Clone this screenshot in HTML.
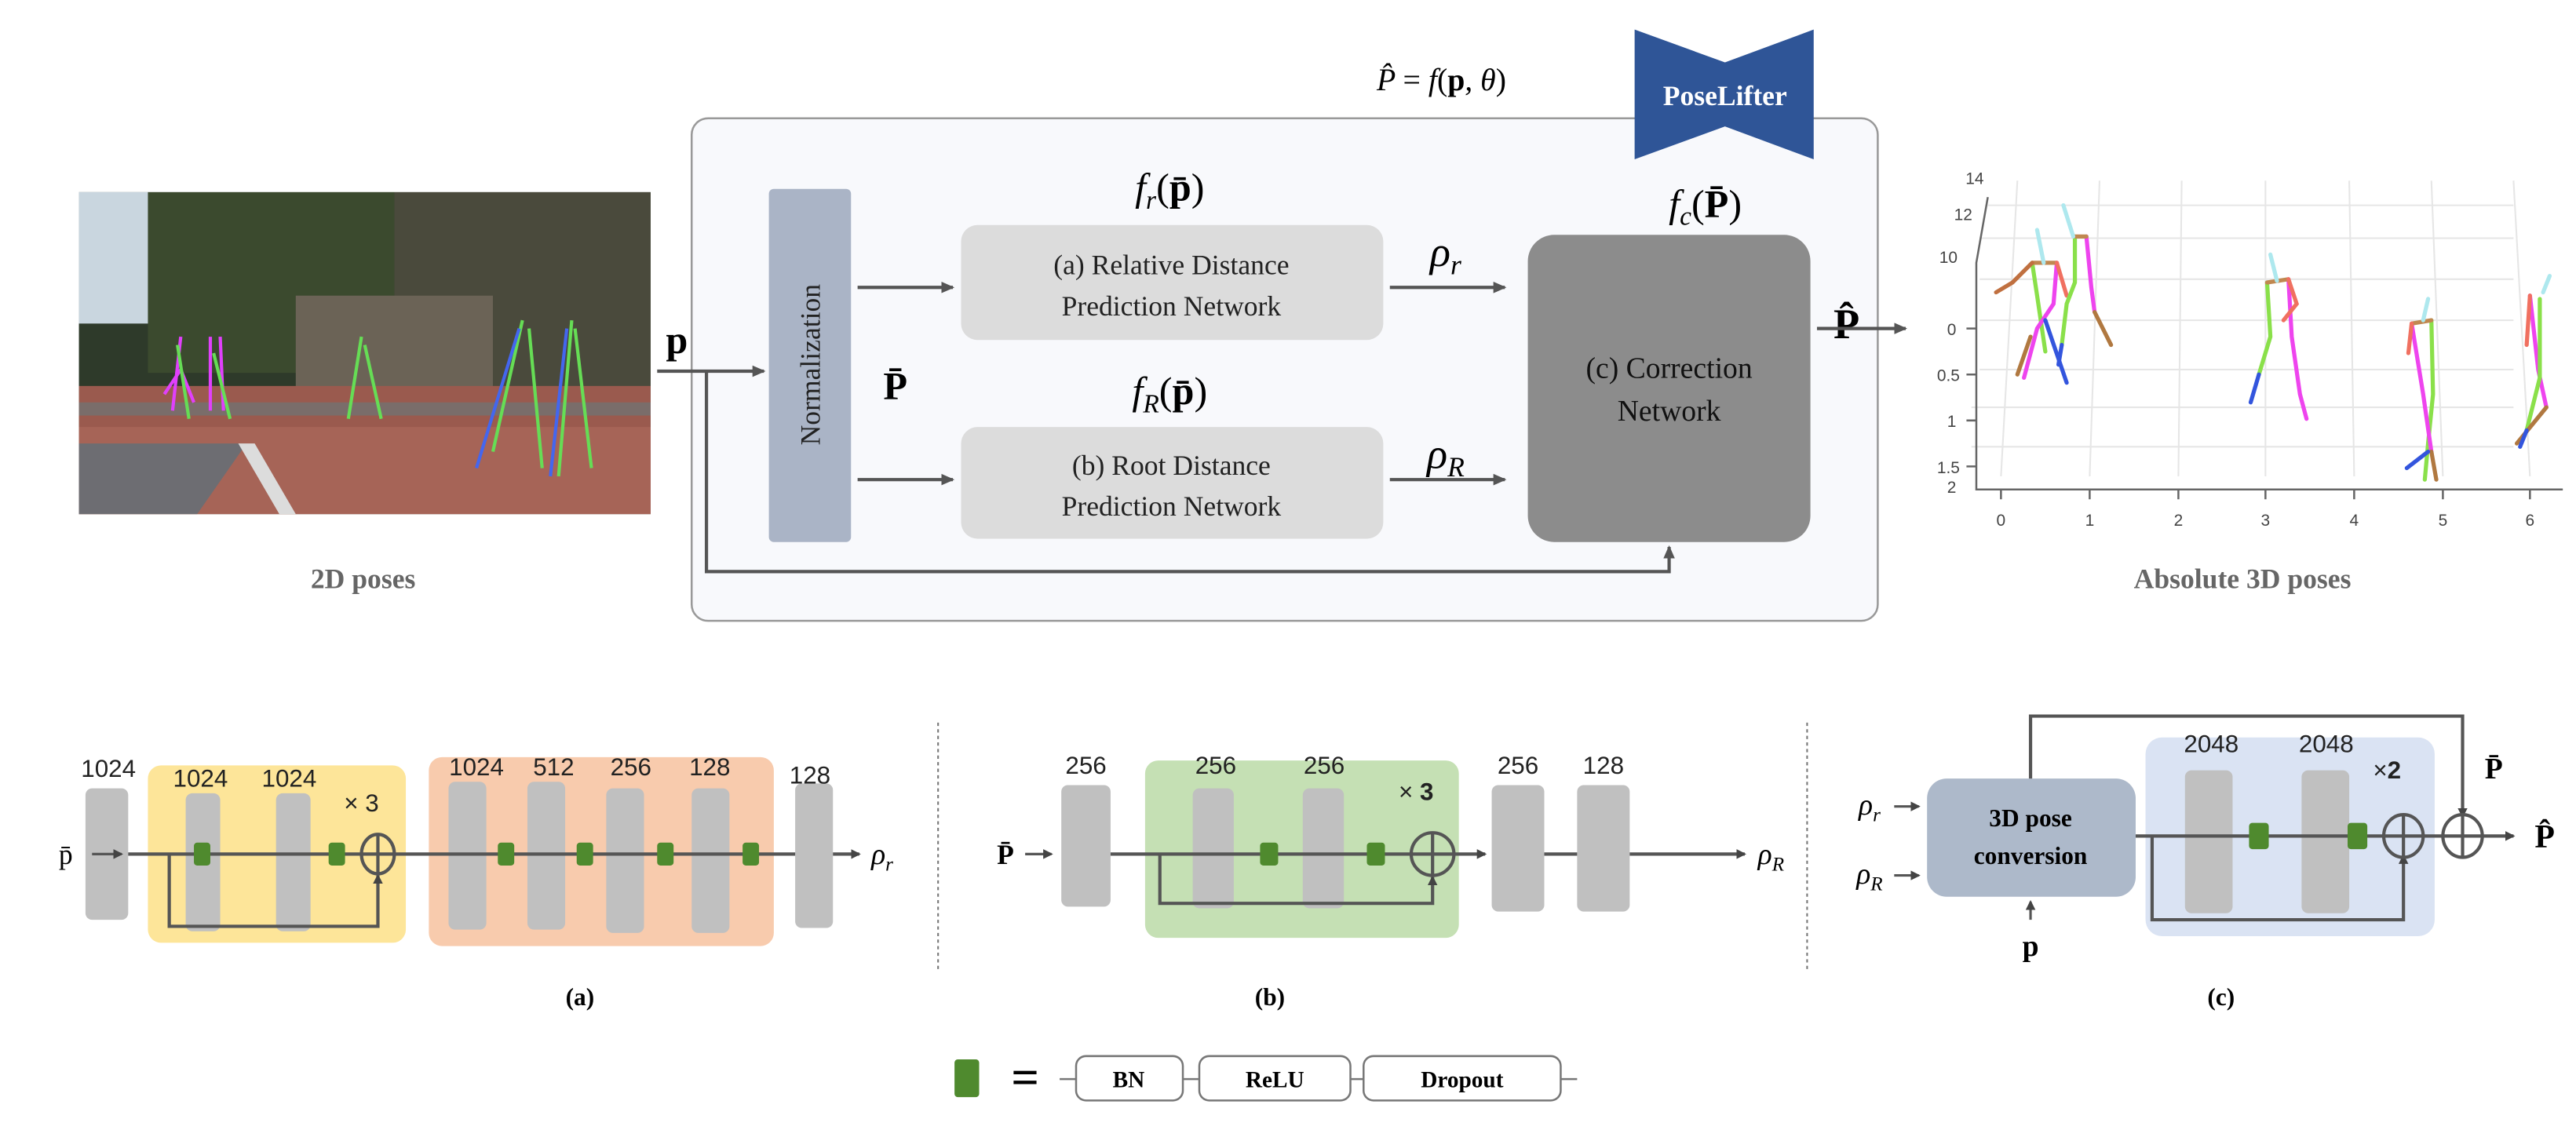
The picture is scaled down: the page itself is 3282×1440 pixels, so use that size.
<!DOCTYPE html>
<html><head><meta charset="utf-8"><style>
html,body{margin:0;padding:0;background:#fff;}
svg{display:block;}
.s{font-family:"Liberation Serif",serif;}
.n{font-family:"Liberation Sans Narrow","Liberation Sans",sans-serif;}
</style></head><body>
<svg width="3282" height="1440" viewBox="0 0 1568 688" xmlns="http://www.w3.org/2000/svg">
<defs>
<marker id="ar" markerWidth="8" markerHeight="8" refX="7" refY="4" orient="auto" markerUnits="userSpaceOnUse"><path d="M0,0.5 L8,4 L0,7.5 z" fill="#555"/></marker>
<marker id="as" markerWidth="6" markerHeight="6" refX="5" refY="3" orient="auto" markerUnits="userSpaceOnUse"><path d="M0,0 L6,3 L0,6 z" fill="#444"/></marker>
</defs>
<rect width="1568" height="688" fill="#fff"/>

<!-- photo -->
<g>
<rect x="48" y="117" width="348" height="196" fill="#2e3a2a"/>
<rect x="48" y="117" width="120" height="80" fill="#c9d6df"/>
<rect x="90" y="117" width="150" height="110" fill="#3b4a2e"/>
<rect x="240" y="117" width="156" height="125" fill="#4a4a3c"/>
<rect x="180" y="180" width="120" height="60" fill="#6b6356"/>
<rect x="48" y="235" width="348" height="78" fill="#9a5a4e"/>
<rect x="48" y="260" width="348" height="53" fill="#a66457"/>
<polygon points="48,270 48,313 120,313 150,270" fill="#6d6d72"/>
<polygon points="145,270 170,313 180,313 155,270" fill="#dcdcdc"/>
<rect x="48" y="245" width="348" height="8" fill="#7a6d6a"/>
<g stroke-width="2" fill="none">
<path d="M110,205 L105,250 M110,225 L100,240 M110,225 L118,245 M128,205 L128,250 M134,205 L136,250" stroke="#e040fb"/>
<path d="M108,210 L115,255 M130,215 L140,255 M220,205 L212,255 M222,210 L232,255 M318,195 L300,275 M322,200 L330,285 M348,195 L340,290 M350,200 L360,285" stroke="#66dd55"/>
<path d="M316,200 L290,285 M345,200 L335,290" stroke="#4466ee"/>
</g>
</g>
<text x="221" y="358" class="s" font-size="17" font-weight="bold" fill="#666" text-anchor="middle">2D poses</text>

<!-- main panel -->
<rect x="421" y="72" width="722" height="306" rx="10" fill="#f8f9fc" stroke="#999" stroke-width="1.2"/>
<text x="838" y="55" class="s" font-size="19" font-style="italic">P̂ <tspan font-style="normal">=</tspan> f<tspan font-style="normal">(</tspan><tspan font-weight="bold" font-style="normal">p</tspan>, θ<tspan font-style="normal">)</tspan></text>
<polygon points="995,18 1050,38 1104,18 1104,97 1050,77 995,97" fill="#2f5597"/>
<text x="1050" y="64" class="s" font-size="17" font-weight="bold" fill="#fff" text-anchor="middle">PoseLifter</text>

<rect x="468" y="115" width="50" height="215" rx="3" fill="#aab4c6"/>
<text transform="translate(499,222) rotate(-90)" class="s" font-size="17" text-anchor="middle" fill="#222">Normalization</text>

<rect x="585" y="137" width="257" height="70" rx="10" fill="#dcdcdc"/>
<text x="713" y="167" class="s" font-size="17" text-anchor="middle" fill="#222">(a) Relative Distance</text>
<text x="713" y="192" class="s" font-size="17" text-anchor="middle" fill="#222">Prediction Network</text>
<rect x="585" y="260" width="257" height="68" rx="10" fill="#dcdcdc"/>
<text x="713" y="289" class="s" font-size="17" text-anchor="middle" fill="#222">(b) Root Distance</text>
<text x="713" y="314" class="s" font-size="17" text-anchor="middle" fill="#222">Prediction Network</text>
<rect x="930" y="143" width="172" height="187" rx="16" fill="#8c8c8c"/>
<text x="1016" y="230" class="s" font-size="18" text-anchor="middle" fill="#111">(c) Correction</text>
<text x="1016" y="256" class="s" font-size="18" text-anchor="middle" fill="#111">Network</text>

<text x="712" y="122" class="s" font-size="24" font-style="italic" text-anchor="middle">f<tspan font-size="16" dy="5">r</tspan><tspan dy="-5" font-style="normal">(</tspan><tspan font-weight="bold" font-style="normal">p̄</tspan><tspan font-style="normal">)</tspan></text>
<text x="712" y="246" class="s" font-size="24" font-style="italic" text-anchor="middle">f<tspan font-size="16" dy="5">R</tspan><tspan dy="-5" font-style="normal">(</tspan><tspan font-weight="bold" font-style="normal">p̄</tspan><tspan font-style="normal">)</tspan></text>
<text x="1038" y="132" class="s" font-size="24" font-style="italic" text-anchor="middle">f<tspan font-size="16" dy="5">c</tspan><tspan dy="-5" font-style="normal">(</tspan><tspan font-weight="bold" font-style="normal">P̄</tspan><tspan font-style="normal">)</tspan></text>
<text x="880" y="162" class="s" font-size="26" font-style="italic" text-anchor="middle">ρ<tspan font-size="17" dy="5">r</tspan></text>
<text x="880" y="285" class="s" font-size="26" font-style="italic" text-anchor="middle">ρ<tspan font-size="17" dy="5">R</tspan></text>
<text x="412" y="215" class="s" font-size="24" font-weight="bold" text-anchor="middle">p</text>
<text x="545" y="243" class="s" font-size="24" font-weight="bold" text-anchor="middle">P̄</text>
<text x="1124" y="206" class="s" font-size="26" font-weight="bold" text-anchor="middle">P̂</text>

<g stroke="#555" stroke-width="2" fill="none">
<line x1="400" y1="226" x2="465" y2="226" marker-end="url(#ar)"/>
<polyline points="430,226 430,348 1016,348 1016,333" marker-end="url(#ar)"/>
<line x1="522" y1="175" x2="580" y2="175" marker-end="url(#ar)"/>
<line x1="522" y1="292" x2="580" y2="292" marker-end="url(#ar)"/>
<line x1="846" y1="175" x2="916" y2="175" marker-end="url(#ar)"/>
<line x1="846" y1="292" x2="916" y2="292" marker-end="url(#ar)"/>
<line x1="1106" y1="200" x2="1160" y2="200" marker-end="url(#ar)"/>
</g>

<!-- 3D plot -->
<g stroke="#e6e6e6" stroke-width="1" fill="none">
<line x1="1200" y1="272" x2="1530" y2="272"/><line x1="1200" y1="248" x2="1530" y2="248"/>
<line x1="1205" y1="225" x2="1530" y2="225"/><line x1="1205" y1="195" x2="1530" y2="195"/>
<line x1="1205" y1="170" x2="1530" y2="170"/><line x1="1205" y1="145" x2="1530" y2="145"/><line x1="1210" y1="125" x2="1530" y2="125"/>
<line x1="1218" y1="290" x2="1228" y2="110"/><line x1="1272" y1="290" x2="1278" y2="110"/><line x1="1326" y1="290" x2="1328" y2="110"/><line x1="1379" y1="290" x2="1379" y2="110"/><line x1="1433" y1="290" x2="1430" y2="110"/><line x1="1487" y1="290" x2="1480" y2="110"/><line x1="1540" y1="290" x2="1530" y2="110"/>
</g>
<g stroke="#666" stroke-width="1.2" fill="none">
<polyline points="1210,120 1203,160 1203,298 1560,298"/>
<path d="M1218,298 v6 M1272,298 v6 M1326,298 v6 M1379,298 v6 M1433,298 v6 M1487,298 v6 M1540,298 v6 M1197,200 h6 M1197,228 h6 M1197,256 h6 M1197,284 h6"/>
</g>
<g class="n" font-size="10" fill="#444" text-anchor="middle">
<text x="1218" y="320">0</text><text x="1272" y="320">1</text><text x="1326" y="320">2</text><text x="1379" y="320">3</text><text x="1433" y="320">4</text><text x="1487" y="320">5</text><text x="1540" y="320">6</text>
<text x="1188" y="204">0</text><text x="1186" y="232">0.5</text><text x="1188" y="260">1</text><text x="1186" y="288">1.5</text><text x="1188" y="300">2</text>
<text x="1186" y="160">10</text><text x="1195" y="134">12</text><text x="1202" y="112">14</text>
</g>
<g stroke-width="2.5" fill="none" stroke-linecap="round">
<path d="M1237,160 L1240,180 L1245,214" stroke="#8ae04a"/><path d="M1252,160 L1250,185 L1240,200 L1232,230" stroke="#ee44ee"/>
<path d="M1245,195 L1258,233" stroke="#3355dd"/><path d="M1236,205 L1228,228" stroke="#b07840"/>
<path d="M1237,160 L1252,160" stroke="#c08850"/><path d="M1244,160 L1240,140" stroke="#aee8ee"/>
<path d="M1237,160 L1225,172 L1215,178" stroke="#c07040"/><path d="M1252,160 L1258,180" stroke="#f07060"/>
<path d="M1263,144 L1263,172 L1258,185 L1255,210" stroke="#8ae04a"/><path d="M1270,144 L1273,175 L1275,190" stroke="#ee44ee"/>
<path d="M1275,190 L1285,210" stroke="#b07840"/><path d="M1255,210 L1253,222" stroke="#3355dd"/><path d="M1263,144 L1270,144" stroke="#c08850"/><path d="M1262,144 L1256,125" stroke="#aee8ee"/>
<path d="M1380,172 L1382,205 L1375,228" stroke="#8ae04a"/><path d="M1393,170 L1395,205 L1400,240 L1404,255" stroke="#ee44ee"/>
<path d="M1375,228 L1370,245" stroke="#3355dd"/><path d="M1380,172 L1393,170" stroke="#c08850"/><path d="M1386,171 L1382,155" stroke="#aee8ee"/><path d="M1393,170 L1398,185 L1390,195" stroke="#f07060"/>
<path d="M1480,195 L1481,240 L1478,270 L1476,292" stroke="#8ae04a"/><path d="M1468,197 L1475,240 L1480,275" stroke="#ee44ee"/><path d="M1480,275 L1483,292" stroke="#b07840"/><path d="M1478,275 L1465,285" stroke="#3355dd"/><path d="M1468,197 L1480,195" stroke="#c08850"/><path d="M1468,197 L1466,215" stroke="#f07060"/><path d="M1475,195 L1478,182" stroke="#aee8ee"/>
<path d="M1540,180 L1545,225 L1550,248" stroke="#ee44ee"/><path d="M1546,182 L1546,230 L1538,262" stroke="#8ae04a"/><path d="M1550,248 L1532,270" stroke="#b07840"/><path d="M1538,262 L1534,272" stroke="#3355dd"/><path d="M1548,178 L1552,168" stroke="#aee8ee"/><path d="M1540,180 L1538,210" stroke="#f07060"/>
</g>
<text x="1365" y="358" class="s" font-size="17" font-weight="bold" fill="#666" text-anchor="middle">Absolute 3D poses</text>

<!-- bottom (a) -->
<rect x="90" y="466" width="157" height="108" rx="8" fill="#fde599"/>
<rect x="261" y="461" width="210" height="115" rx="8" fill="#f8cbad"/>
<g fill="#c0c0c0">
<rect x="52" y="480" width="26" height="80" rx="4"/>
<rect x="113" y="483" width="21" height="84" rx="4"/><rect x="168" y="483" width="21" height="84" rx="4"/>
<rect x="273" y="476" width="23" height="90" rx="4"/><rect x="321" y="476" width="23" height="90" rx="4"/><rect x="369" y="480" width="23" height="88" rx="4"/><rect x="421" y="480" width="23" height="88" rx="4"/>
<rect x="484" y="477" width="23" height="88" rx="4"/>
</g>
<g stroke="#555" stroke-width="2" fill="none">
<line x1="56" y1="520" x2="74" y2="520" stroke-width="1.5" marker-end="url(#as)"/>
<line x1="78" y1="520" x2="484" y2="520"/>
<line x1="507" y1="520" x2="523" y2="520" marker-end="url(#as)"/>
<polyline points="103,520 103,564 230,564 230,533" marker-end="url(#as)"/>
<ellipse cx="230" cy="520" rx="10" ry="12"/><line x1="230" y1="508" x2="230" y2="532"/>
</g>
<g fill="#4f8a2e">
<rect x="118" y="513" width="10" height="14" rx="2"/><rect x="200" y="513" width="10" height="14" rx="2"/>
<rect x="303" y="513" width="10" height="14" rx="2"/><rect x="351" y="513" width="10" height="14" rx="2"/><rect x="400" y="513" width="10" height="14" rx="2"/><rect x="452" y="513" width="10" height="14" rx="2"/>
</g>
<g class="n" font-size="15" fill="#222" text-anchor="middle">
<text x="66" y="473">1024</text><text x="122" y="479">1024</text><text x="176" y="479">1024</text>
<text x="290" y="472">1024</text><text x="337" y="472">512</text><text x="384" y="472">256</text><text x="432" y="472">128</text><text x="493" y="477">128</text>
<text x="220" y="494">× 3</text>
</g>
<text x="40" y="526" class="s" font-size="17" text-anchor="middle">p̄</text>
<text x="537" y="526" class="s" font-size="18" font-style="italic" text-anchor="middle">ρ<tspan font-size="12" dy="4">r</tspan></text>
<text x="353" y="612" class="s" font-size="15" font-weight="bold" text-anchor="middle">(a)</text>

<line x1="571" y1="440" x2="571" y2="592" stroke="#777" stroke-width="1" stroke-dasharray="2,2"/>
<line x1="1100" y1="440" x2="1100" y2="592" stroke="#777" stroke-width="1" stroke-dasharray="2,2"/>

<!-- (b) -->
<rect x="697" y="463" width="191" height="108" rx="8" fill="#c5e0b4"/>
<g fill="#c0c0c0">
<rect x="646" y="478" width="30" height="74" rx="4"/>
<rect x="726" y="480" width="25" height="73" rx="4"/><rect x="793" y="480" width="25" height="73" rx="4"/>
<rect x="908" y="478" width="32" height="77" rx="4"/><rect x="960" y="478" width="32" height="77" rx="4"/>
</g>
<g stroke="#555" stroke-width="2" fill="none">
<line x1="624" y1="520" x2="640" y2="520" stroke-width="1.5" marker-end="url(#as)"/>
<line x1="676" y1="520" x2="904" y2="520" marker-end="url(#as)"/>
<line x1="940" y1="520" x2="960" y2="520"/>
<line x1="992" y1="520" x2="1062" y2="520" marker-end="url(#as)"/>
<polyline points="706,520 706,550 872,550 872,534" marker-end="url(#as)"/>
<circle cx="872" cy="520" r="13" fill="#c5e0b4"/><line x1="859" y1="520" x2="885" y2="520"/><line x1="872" y1="507" x2="872" y2="533"/>
</g>
<g fill="#4f8a2e"><rect x="767" y="513" width="11" height="14" rx="2"/><rect x="832" y="513" width="11" height="14" rx="2"/></g>
<g class="n" font-size="15" fill="#222" text-anchor="middle">
<text x="661" y="471">256</text><text x="740" y="471">256</text><text x="806" y="471">256</text><text x="924" y="471">256</text><text x="976" y="471">128</text>
<text x="862" y="487">× <tspan font-weight="bold">3</tspan></text>
</g>
<text x="612" y="526" class="s" font-size="17" font-weight="bold" text-anchor="middle">P̄</text>
<text x="1078" y="526" class="s" font-size="18" font-style="italic" text-anchor="middle">ρ<tspan font-size="12" dy="4">R</tspan></text>
<text x="773" y="612" class="s" font-size="15" font-weight="bold" text-anchor="middle">(b)</text>

<!-- (c) -->
<rect x="1306" y="449" width="176" height="121" rx="10" fill="#dae3f3"/>
<rect x="1173" y="474" width="127" height="72" rx="12" fill="#adb9ca"/>
<text x="1236" y="503" class="s" font-size="15" font-weight="bold" text-anchor="middle">3D pose</text>
<text x="1236" y="526" class="s" font-size="15" font-weight="bold" text-anchor="middle">conversion</text>
<g fill="#c0c0c0"><rect x="1330" y="469" width="29" height="87" rx="4"/><rect x="1401" y="469" width="29" height="87" rx="4"/></g>
<g stroke="#555" stroke-width="2" fill="none">
<line x1="1300" y1="509" x2="1530" y2="509" marker-end="url(#as)"/>
<polyline points="1310,509 1310,560 1463,560 1463,521" marker-end="url(#as)"/>
<polyline points="1236,474 1236,436 1499,436 1499,497" marker-end="url(#as)"/>
<ellipse cx="1463" cy="509" rx="12" ry="13"/><line x1="1463" y1="496" x2="1463" y2="522"/>
<ellipse cx="1499" cy="509" rx="12" ry="13" fill="#fff"/><line x1="1487" y1="509" x2="1511" y2="509"/><line x1="1499" y1="496" x2="1499" y2="522"/>
<line x1="1153" y1="491" x2="1168" y2="491" stroke-width="1.5" marker-end="url(#as)"/>
<line x1="1153" y1="533" x2="1168" y2="533" stroke-width="1.5" marker-end="url(#as)"/>
<line x1="1236" y1="560" x2="1236" y2="549" stroke-width="1.5" marker-end="url(#as)"/>
</g>
<g fill="#4f8a2e"><rect x="1369" y="501" width="12" height="16" rx="2"/><rect x="1429" y="501" width="12" height="16" rx="2"/></g>
<g class="n" font-size="15" fill="#222" text-anchor="middle">
<text x="1346" y="458">2048</text><text x="1416" y="458">2048</text>
<text x="1453" y="474">×<tspan font-weight="bold">2</tspan></text>
</g>
<text x="1138" y="496" class="s" font-size="18" font-style="italic" text-anchor="middle">ρ<tspan font-size="12" dy="4">r</tspan></text>
<text x="1138" y="538" class="s" font-size="18" font-style="italic" text-anchor="middle">ρ<tspan font-size="12" dy="4">R</tspan></text>
<text x="1236" y="582" class="s" font-size="18" font-weight="bold" text-anchor="middle">p</text>
<text x="1518" y="474" class="s" font-size="18" font-weight="bold" text-anchor="middle">P̄</text>
<text x="1549" y="516" class="s" font-size="20" font-weight="bold" text-anchor="middle">P̂</text>
<text x="1352" y="612" class="s" font-size="15" font-weight="bold" text-anchor="middle">(c)</text>

<!-- legend -->
<rect x="581" y="645" width="15" height="23" rx="2" fill="#4f8a2e"/>
<text x="624" y="666" class="s" font-size="30" font-weight="bold" text-anchor="middle">=</text>
<g stroke="#777" stroke-width="1.2" fill="#fff">
<line x1="645" y1="657" x2="960" y2="657"/>
<rect x="655" y="643" width="65" height="27" rx="6"/>
<rect x="730" y="643" width="92" height="27" rx="6"/>
<rect x="830" y="643" width="120" height="27" rx="6"/>
</g>
<g class="s" font-size="14" font-weight="bold" text-anchor="middle">
<text x="687" y="662">BN</text><text x="776" y="662">ReLU</text><text x="890" y="662">Dropout</text>
</g>
</svg>
</body></html>
